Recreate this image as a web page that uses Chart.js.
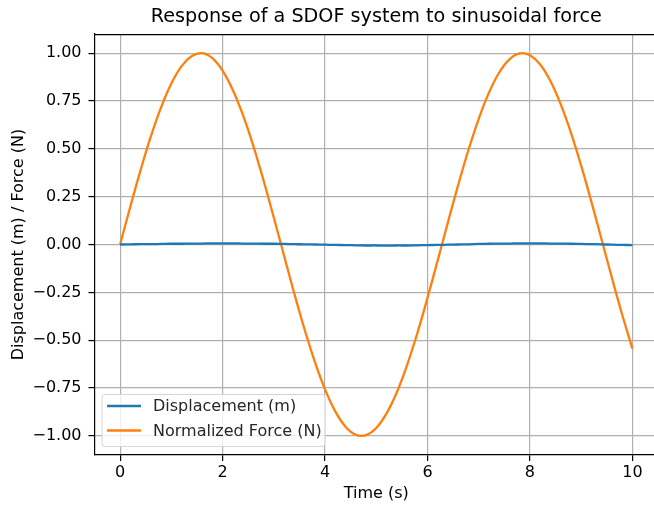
<!DOCTYPE html>
<html>
<head>
<meta charset="utf-8">
<script src="https://cdn.jsdelivr.net/npm/chart.js@4.4.1/dist/chart.umd.min.js"></script>
<style>
html, body { margin: 0; padding: 0; background: #fff; overflow: hidden; }
#wrap { width: 654px; height: 505px; overflow: hidden; position: relative; }
#chart { position: absolute; left: 0; top: 0; }
</style>
</head>
<body>
<div id="wrap"><canvas id="chart" width="700" height="505"></canvas></div>
<script>
// values
var timeS = [0, 0.2, 0.4, 0.6, 0.8, 1, 1.2, 1.4, 1.6, 1.8, 2, 2.2, 2.4, 2.6, 2.8, 3, 3.2, 3.4, 3.6, 3.8,
             4, 4.2, 4.4, 4.6, 4.8, 5, 5.2, 5.4, 5.6, 5.8, 6, 6.2, 6.4, 6.6, 6.8, 7, 7.2, 7.4, 7.6, 7.8,
             8, 8.2, 8.4, 8.6, 8.8, 9, 9.2, 9.4, 9.6, 9.8, 10];
var displacement = [0.000, 0.001, 0.002, 0.002, 0.003, 0.004, 0.004, 0.005, 0.005, 0.006, 0.006, 0.006, 0.005,
                    0.005, 0.004, 0.004, 0.003, 0.002, 0.001, 0.000, -0.001, -0.002, -0.003, -0.004, -0.005,
                    -0.005, -0.006, -0.005, -0.005, -0.004, -0.003, -0.002, -0.001, 0.000, 0.001, 0.003, 0.004,
                    0.005, 0.005, 0.006, 0.006, 0.006, 0.005, 0.005, 0.004, 0.003, 0.002, 0.001, -0.001, -0.002, -0.003];
var normForce = [0.000, 0.199, 0.389, 0.565, 0.717, 0.841, 0.932, 0.985, 1.000, 0.974, 0.909, 0.808, 0.675,
                 0.516, 0.335, 0.141, -0.058, -0.256, -0.443, -0.612, -0.757, -0.872, -0.952, -0.994, -0.996,
                 -0.959, -0.883, -0.773, -0.631, -0.465, -0.279, -0.083, 0.117, 0.312, 0.494, 0.657, 0.794,
                 0.899, 0.968, 0.999, 0.989, 0.941, 0.855, 0.734, 0.585, 0.412, 0.223, 0.025, -0.174, -0.366, -0.544];
var xTicks = [0, 2, 4, 6, 8, 10];
var yTicks = [-1, -0.75, -0.5, -0.25, 0, 0.25, 0.5, 0.75, 1];

var FONT = 'DejaVu Sans';

function toPoints(ys) {
    var pts = [];
    for (var i = 0; i < timeS.length; i++) {
        pts.push({x: timeS[i], y: ys[i]});
    }
    return pts;
}

// matplotlib style legend box in the lower left + top spine
var mplExtras = {
    id: 'mplExtras',
    afterDraw: function(chart) {
        var ctx = chart.ctx;
        var area = chart.chartArea;
        ctx.save();
        ctx.strokeStyle = '#000';
        ctx.lineWidth = 1.2;
        ctx.beginPath();
        ctx.moveTo(area.left, area.top + 0.5);
        ctx.lineTo(area.right, area.top + 0.5);
        ctx.stroke();

        var x = 102, y = 394.5, w = 223, h = 52, r = 3;
        ctx.beginPath();
        ctx.moveTo(x + r, y);
        ctx.arcTo(x + w, y, x + w, y + h, r);
        ctx.arcTo(x + w, y + h, x, y + h, r);
        ctx.arcTo(x, y + h, x, y, r);
        ctx.arcTo(x, y, x + w, y, r);
        ctx.closePath();
        ctx.fillStyle = 'rgba(255,255,255,0.8)';
        ctx.fill();
        ctx.strokeStyle = '#d6d6d6';
        ctx.lineWidth = 1;
        ctx.stroke();

        ctx.font = '16px "' + FONT + '"';
        ctx.textBaseline = 'middle';
        ctx.textAlign = 'left';
        chart.data.datasets.forEach(function(ds, i) {
            var ly = 406 + i * 24.5;
            ctx.strokeStyle = ds.borderColor;
            ctx.lineWidth = 2.3;
            ctx.beginPath();
            ctx.moveTo(107, ly);
            ctx.lineTo(141, ly);
            ctx.stroke();
            ctx.fillStyle = '#262626';
            ctx.fillText(ds.label, 153, ly + 1);
        });
        ctx.restore();
    }
};

var ctx = document.getElementById('chart').getContext('2d');
var chart = new Chart(ctx, {
    type: 'line',
    data: {
        datasets: [
            {
                label: 'Displacement (m)',
                data: toPoints(displacement),
                borderColor: '#1f77b4',
                borderWidth: 2.3,
                pointRadius: 0,
                tension: 0.4,
                fill: false
            },
            {
                label: 'Normalized Force (N)',
                data: toPoints(normForce),
                borderColor: '#ff7f0e',
                borderWidth: 2.3,
                pointRadius: 0,
                tension: 0.4,
                fill: false
            }
        ]
    },
    options: {
        responsive: false,
        animation: false,
        devicePixelRatio: 1,
        layout: { padding: { left: 0, right: 42, top: 0, bottom: 0 } },
        plugins: {
            legend: { display: false },
            tooltip: { enabled: false },
            title: {
                display: true,
                fullSize: false,
                text: 'Response of a SDOF system to sinusoidal force',
                color: '#000',
                font: { family: FONT, size: 19.2, weight: 'normal', lineHeight: 1.2 },
                padding: { top: 5.5, bottom: 5.5 }
            }
        },
        scales: {
            x: {
                type: 'linear',
                min: -0.5,
                max: 10.5,
                afterBuildTicks: function(scale) {
                    scale.ticks = xTicks.map(function(v) { return {value: v}; });
                },
                afterFit: function(scale) { scale.height = 50; },
                grid: { color: '#b0b0b0', lineWidth: 1.2, tickLength: 6, tickColor: '#000', drawTicks: true },
                border: { color: '#000', width: 1.2 },
                ticks: {
                    color: '#000',
                    padding: 2,
                    maxRotation: 0,
                    font: { family: FONT, size: 16 },
                    callback: function(v) { return String(v); }
                },
                title: {
                    display: true,
                    text: 'Time (s)',
                    color: '#000',
                    font: { family: FONT, size: 16 },
                    padding: { top: 0, bottom: 1.5 }
                }
            },
            y: {
                type: 'linear',
                min: -1.1,
                max: 1.1,
                afterBuildTicks: function(scale) {
                    scale.ticks = yTicks.map(function(v) { return {value: v}; });
                },
                afterFit: function(scale) { scale.width = 94.5; },
                grid: { color: '#b0b0b0', lineWidth: 1.2, tickLength: 6, tickColor: '#000', drawTicks: true },
                border: { color: '#000', width: 1.2 },
                ticks: {
                    color: '#000',
                    padding: 7,
                    font: { family: FONT, size: 16 },
                    callback: function(v) { return v.toFixed(2).replace('-', '\u2212'); }
                },
                title: {
                    display: true,
                    text: 'Displacement (m) / Force (N)',
                    color: '#000',
                    font: { family: FONT, size: 16 },
                    padding: { top: 9, bottom: 0 }
                }
            }
        }
    },
    plugins: [mplExtras]
});
</script>
</body>
</html>
